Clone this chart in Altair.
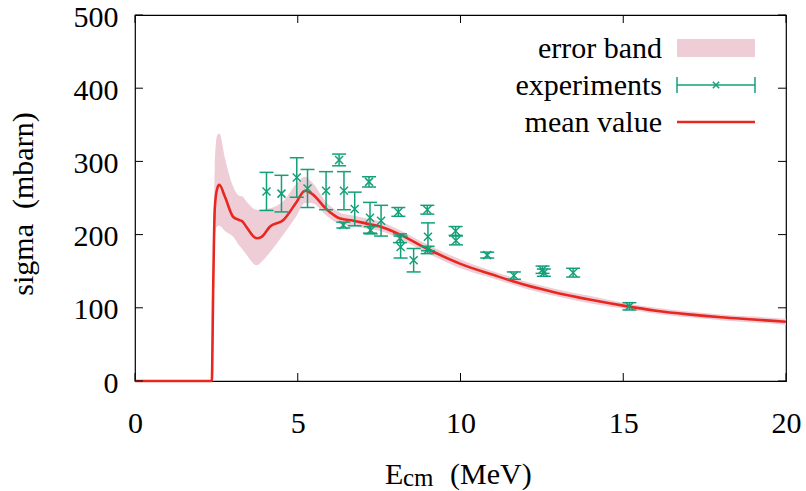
import altair as alt
import pandas as pd

# ---------------- data ----------------
curve_x = [0, 2.36, 2.40, 2.45, 2.52, 2.59, 2.76, 3.02, 3.20, 3.30, 3.43, 3.74, 3.89, 4.15, 4.56,
           4.97, 5.22, 5.43, 5.90, 6.30, 6.71, 7.12, 7.53, 8.14, 8.96, 10.0, 11.0, 12.0, 13.0,
           14.0, 15.0, 16.0, 17.0, 18.0, 19.0, 20.0]
curve_mean = [0, 0, 120, 235, 262, 268, 252, 224, 220, 218, 210, 195, 197, 211, 220,
              245, 260, 256, 234, 222, 219, 215, 211, 200, 181, 160, 145, 131, 120,
              111, 103, 96, 91, 87, 84, 81]
curve_lo = [0, 0, 100, 195, 211, 212, 205, 197, 185, 180, 172, 158, 163, 176, 200,
            226, 243, 243, 225, 214, 212, 208, 205, 194, 175, 154, 140, 126, 115,
            106, 99, 92, 87, 83, 80, 77]
curve_hi = [0, 0, 140, 290, 335, 338, 305, 265, 253, 252, 245, 234, 234, 236, 246,
            270, 279, 272, 243, 230, 226, 222, 218, 206, 187, 166, 150, 136, 125,
            116, 107, 100, 95, 91, 88, 85]

exp_x = [4.04, 4.50, 4.97, 5.30, 5.87, 6.27, 6.42, 6.40, 6.75, 7.19, 7.22, 7.24, 7.56, 8.09,
         8.14, 8.16, 8.56, 8.98, 9.00, 8.99, 9.85, 9.86, 10.82, 11.64, 12.52, 12.56, 13.46, 15.19]
exp_y = [259, 256, 278, 263, 260, 302, 260, 213, 235, 272, 223, 206, 219, 231,
         195, 183, 165, 234, 197, 179, 205, 192, 172, 144, 152, 148, 148, 102]
exp_err = [26, 25, 27, 26, 26, 8, 26, 4, 23, 7, 21, 5, 21, 6,
           6, 15, 16, 6, 19, 5, 6, 6, 4, 5, 5, 5, 6, 5]

x_ticks = [0, 5, 10, 15, 20]
y_ticks = [0, 100, 200, 300, 400, 500]
legend_labels = ["error band", "experiments", "mean value"]

# ---------------- style ----------------
W, H = 651, 366
TK = 8
FONT = "Liberation Serif"
FS = 30
RED = "#e8281e"
GREEN = "#13a078"
PINK = "#eecdd7"
NB = "\u00a0"

curve = pd.DataFrame({"x": curve_x, "mean": curve_mean, "lo": curve_lo, "hi": curve_hi})
exp = pd.DataFrame({"x": exp_x, "y": exp_y,
                    "lo": [a - b for a, b in zip(exp_y, exp_err)],
                    "hi": [a + b for a, b in zip(exp_y, exp_err)]})
xt_df = pd.DataFrame({"v": x_ticks})
yt_df = pd.DataFrame({"v": y_ticks})

xs = alt.Scale(domain=[0, 20], nice=False, zero=False)
ys = alt.Scale(domain=[0, 500], nice=False)

ax_common = dict(ticks=False, domain=False, grid=False, title=None, labelFlush=False,
                 labelFont=FONT, labelFontSize=FS, labelColor="black", labelOverlap=False)

band = alt.Chart(curve).mark_area(color=PINK, opacity=1, interpolate="monotone").encode(
    x=alt.X("x:Q", scale=xs, axis=alt.Axis(orient="bottom", values=x_ticks, labelPadding=27, **ax_common)),
    y=alt.Y("lo:Q", scale=ys, axis=alt.Axis(orient="left", values=y_ticks, labelPadding=17,
                                             labelOffset=2, labelBaseline="middle", **ax_common)),
    y2="hi:Q",
)

mean = alt.Chart(curve).mark_line(color=RED, strokeWidth=2.6, interpolate="monotone").encode(
    x=alt.X("x:Q", scale=xs, axis=None),
    y=alt.Y("mean:Q", scale=ys, axis=None),
)

# inward tick marks on all four sides (gnuplot style)
tick_style = dict(color="black", strokeWidth=1)
tb = alt.Chart(xt_df).mark_rule(**tick_style).encode(
    x=alt.X("v:Q", scale=xs, axis=None), y=alt.value(H - TK), y2=alt.value(H))
tt = alt.Chart(xt_df).mark_rule(**tick_style).encode(
    x=alt.X("v:Q", scale=xs, axis=None), y=alt.value(0), y2=alt.value(TK))
tl = alt.Chart(yt_df).mark_rule(**tick_style).encode(
    y=alt.Y("v:Q", scale=ys, axis=None), x=alt.value(0), x2=alt.value(TK))
tr = alt.Chart(yt_df).mark_rule(**tick_style).encode(
    y=alt.Y("v:Q", scale=ys, axis=None), x=alt.value(W - TK), x2=alt.value(W))

bars = alt.Chart(exp).mark_rule(color=GREEN, strokeWidth=1.5).encode(
    x=alt.X("x:Q", scale=xs, axis=None),
    y=alt.Y("lo:Q", scale=ys, axis=None),
    y2="hi:Q",
)
cap_top = alt.Chart(exp).mark_rule(color=GREEN, strokeWidth=1.5, xOffset=-7, x2Offset=7).encode(
    x=alt.X("x:Q", scale=xs, axis=None), x2="x:Q",
    y=alt.Y("hi:Q", scale=ys, axis=None),
)
cap_bot = alt.Chart(exp).mark_rule(color=GREEN, strokeWidth=1.5, xOffset=-7, x2Offset=7).encode(
    x=alt.X("x:Q", scale=xs, axis=None), x2="x:Q",
    y=alt.Y("lo:Q", scale=ys, axis=None),
)
XSHAPE = "M-1,-1L1,1M-1,1L1,-1"
pts = alt.Chart(exp).mark_point(shape=XSHAPE, filled=False, color=GREEN, strokeWidth=1.5, size=64,
                                opacity=1).encode(
    x=alt.X("x:Q", scale=xs, axis=None),
    y=alt.Y("y:Q", scale=ys, axis=None),
)

# ---------------- legend (manual) ----------------
one = pd.DataFrame({"k": [0]})
LX_TEXT = 662 - 135
LX0, LX1 = 677 - 135, 755 - 135
rows_y = [48 - 15, 85 - 15, 122 - 15]

leg = []
for lab, ry in zip(legend_labels, rows_y):
    leg.append(alt.Chart(pd.DataFrame({"t": [lab]})).mark_text(
        align="right", baseline="alphabetic", font=FONT, fontSize=FS, color="black").encode(
        x=alt.value(LX_TEXT), y=alt.value(ry + 10), text="t:N"))
leg.append(alt.Chart(one).mark_rect(color=PINK).encode(
    x=alt.value(LX0), x2=alt.value(LX1), y=alt.value(rows_y[0] - 9), y2=alt.value(rows_y[0] + 9)))
leg.append(alt.Chart(one).mark_rule(color=GREEN, strokeWidth=1.5).encode(
    x=alt.value(LX0), x2=alt.value(LX1), y=alt.value(rows_y[1])))
leg.append(alt.Chart(one).mark_rule(color=GREEN, strokeWidth=1.5).encode(
    x=alt.value(LX0), y=alt.value(rows_y[1] - 8), y2=alt.value(rows_y[1] + 8)))
leg.append(alt.Chart(one).mark_rule(color=GREEN, strokeWidth=1.5).encode(
    x=alt.value(LX1), y=alt.value(rows_y[1] - 8), y2=alt.value(rows_y[1] + 8)))
leg.append(alt.Chart(one).mark_point(shape=XSHAPE, filled=False, color=GREEN, strokeWidth=1.5,
                                     size=40, opacity=1).encode(
    x=alt.value((LX0 + LX1) / 2), y=alt.value(rows_y[1])))
leg.append(alt.Chart(one).mark_rule(color=RED, strokeWidth=2.6).encode(
    x=alt.value(LX0), x2=alt.value(LX1), y=alt.value(rows_y[2])))

# ---------------- axis titles (manual, for the subscript) ----------------
xt_E = alt.Chart(pd.DataFrame({"t": ["E"]})).mark_text(
    align="left", baseline="alphabetic", font=FONT, fontSize=FS, color="black").encode(
    x=alt.value(385 - 135), y=alt.value(484 - 15), text="t:N")
xt_sub = alt.Chart(pd.DataFrame({"t": ["cm"]})).mark_text(
    align="left", baseline="alphabetic", font=FONT, fontSize=25, color="black").encode(
    x=alt.value(403 - 135), y=alt.value(486 - 15), text="t:N")
xt_unit = alt.Chart(pd.DataFrame({"t": ["(MeV)"]})).mark_text(
    align="left", baseline="alphabetic", font=FONT, fontSize=FS, color="black").encode(
    x=alt.value(450 - 135), y=alt.value(484 - 15), text="t:N")
yt = alt.Chart(pd.DataFrame({"t": ["sigma" + NB + NB + "(mbarn)"]})).mark_text(
    align="center", baseline="alphabetic", angle=270, font=FONT, fontSize=FS, color="black").encode(
    x=alt.value(33 - 135), y=alt.value(204 - 15), text="t:N")

chart = alt.layer(band, mean, bars, cap_top, cap_bot, pts, tb, tt, tl, tr,
                  *leg, xt_E, xt_sub, xt_unit, yt).resolve_axis(
    x="independent", y="independent"
).properties(
    width=W, height=H,
    autosize=alt.AutoSizeParams(type="none"),
    padding={"left": 135, "top": 15, "right": 20, "bottom": 110},
    background="white",
).configure_view(stroke="black", strokeWidth=1.2)

chart.save("out.html", embed_options={"renderer": "svg", "actions": False})
